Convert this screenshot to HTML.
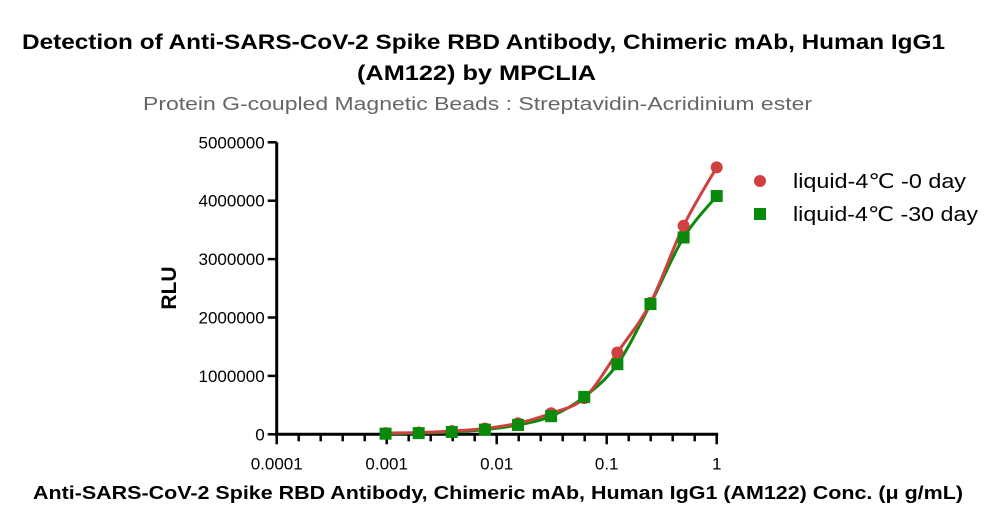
<!DOCTYPE html>
<html><head><meta charset="utf-8"><style>
body{margin:0;background:#fff;}
svg text{font-family:"Liberation Sans","DejaVu Sans",sans-serif;}
</style></head><body>
<svg width="1000" height="526" viewBox="0 0 1000 526" xmlns="http://www.w3.org/2000/svg">
<g id="titles">
<text x="22" y="49" textLength="923" lengthAdjust="spacingAndGlyphs" font-size="21" font-weight="bold" fill="#000">Detection of Anti-SARS-CoV-2 Spike RBD Antibody, Chimeric mAb, Human IgG1</text>
<text x="357" y="80" textLength="239" lengthAdjust="spacingAndGlyphs" font-size="21" font-weight="bold" fill="#000">(AM122) by MPCLIA</text>
<text x="143" y="110" textLength="669" lengthAdjust="spacingAndGlyphs" font-size="18" fill="#666">Protein G-coupled Magnetic Beads : Streptavidin-Acridinium ester</text>
<text transform="translate(176,288) rotate(-90)" text-anchor="middle" font-size="21" font-weight="bold" fill="#000">RLU</text>
<text x="33" y="499" textLength="930" lengthAdjust="spacingAndGlyphs" font-size="18" font-weight="bold" fill="#000">Anti-SARS-CoV-2 Spike RBD Antibody, Chimeric mAb, Human IgG1 (AM122) Conc. (μ g/mL)</text>
</g>
<g id="axes"></g>
<g id="series"></g>
<g id="legend">
<circle cx="760" cy="181" r="6" fill="#d04040"/>
<text x="793" y="188" textLength="173" lengthAdjust="spacingAndGlyphs" font-size="20" fill="#000">liquid-4℃ -0 day</text>
<rect x="754" y="208" width="12" height="12" fill="#0a8a0a"/>
<text x="793" y="221" textLength="185" lengthAdjust="spacingAndGlyphs" font-size="20" fill="#000">liquid-4℃ -30 day</text>
</g>
</svg>
<script>
const concentrations=[1,0.5,0.25,0.125,0.0625,0.03125,0.015625,0.0078125,0.00390625,0.001953125,0.0009765625];
const day0Values=[4570000,3570000,2250000,1400000,620000,360000,190000,100000,55000,30000,20000];
const day30Values=[4080000,3370000,2230000,1200000,640000,310000,160000,80000,40000,20000,10000];
const yTicks=[0,1000000,2000000,3000000,4000000,5000000];
const yTickLabels=["0","1000000","2000000","3000000","4000000","5000000"];
const xTicks=[0.0001,0.001,0.01,0.1,1];
const xTickLabels=["0.0001","0.001","0.01","0.1","1"];
const NS="http://www.w3.org/2000/svg";
const X0=276.7,DEC=110,Y0=434.3,YMAX=142.3;
function xs(v){return X0+(Math.log10(v)+4)*DEC;}
function ys(v){return Y0-(v/5000000)*(Y0-YMAX);}
function mk(tag,attrs,parent){const e=document.createElementNS(NS,tag);for(const k in attrs)e.setAttribute(k,attrs[k]);parent.appendChild(e);return e;}
const axes=document.getElementById('axes');
let a=mk('line',{x1:X0,y1:YMAX,x2:X0,y2:Y0+1.5,stroke:'#000','stroke-width':3},axes);


a=mk('line',{x1:X0-1.5,y1:Y0,x2:xs(1)+1.5,y2:Y0,stroke:'#000','stroke-width':3},axes);


yTicks.forEach((t,i)=>{
 const y=ys(t);
 let l=mk('line',{x1:X0-9,y1:y,x2:X0,y2:y,stroke:'#000','stroke-width':2.5},axes);
 
 
 let tx=mk('text',{x:X0-12,y:y+6,'text-anchor':'end','font-size':17,fill:'#000'},axes);
 tx.textContent=yTickLabels[i];
 
 
});
xTicks.forEach((t,i)=>{
 const x=xs(t);
 let l=mk('line',{x1:x,y1:Y0,x2:x,y2:Y0+10,stroke:'#000','stroke-width':2.5},axes);
 
 
 let tx=mk('text',{x:x,y:Y0+35,'text-anchor':'middle','font-size':17,fill:'#000'},axes);
 tx.textContent=xTickLabels[i];
 
 
 if(i<xTicks.length-1){for(let m=1;m<5;m++){
  const mx=x+m*DEC/5;
  let ml=mk('line',{x1:mx,y1:Y0,x2:mx,y2:Y0+7,stroke:'#000','stroke-width':2.5},axes);
  
  
 }}
});
const series=document.getElementById('series');
function curve(vals,color,name){
 const pts=concentrations.map((c,i)=>[xs(c),ys(vals[i])]).sort((p,q)=>p[0]-q[0]);
 let d='M'+pts[0][0]+','+pts[0][1];
 for(let i=0;i<pts.length-1;i++){
  const p0=pts[Math.max(i-1,0)],p1=pts[i],p2=pts[i+1],p3=pts[Math.min(i+2,pts.length-1)];
  const c1=[p1[0]+(p2[0]-p0[0])/6,p1[1]+(p2[1]-p0[1])/6];
  const c2=[p2[0]-(p3[0]-p1[0])/6,p2[1]-(p3[1]-p1[1])/6];
  d+=' C'+c1+' '+c2+' '+p2;
 }
 const p=mk('path',{d:d,fill:'none',stroke:color,'stroke-width':3},series);
 
 
}
curve(day30Values,'#0a8a0a','fit-curve-30day');
curve(day0Values,'#d04040','fit-curve-0day');
concentrations.forEach((c,i)=>{
 const m=mk('circle',{cx:xs(c),cy:ys(day0Values[i]),r:6,fill:'#d04040'},series);
 
 
});
concentrations.forEach((c,i)=>{
 const m=mk('rect',{x:xs(c)-6,y:ys(day30Values[i])-6,width:12,height:12,fill:'#0a8a0a'},series);
 
 
});
</script>
</body></html>
